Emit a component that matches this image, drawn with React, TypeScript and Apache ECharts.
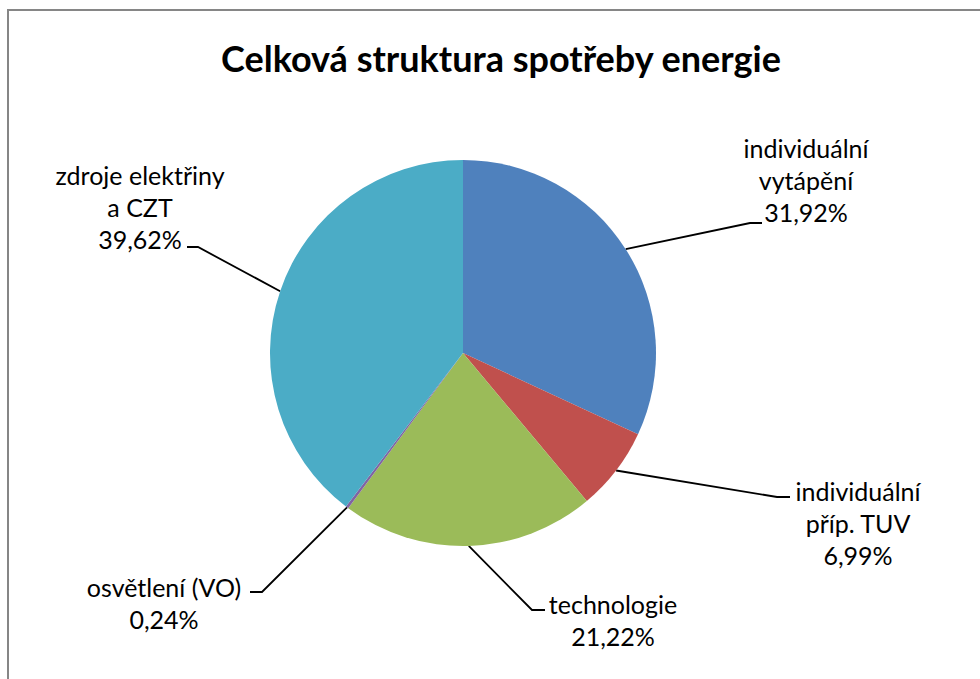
import React, { useEffect, useRef } from "react";
import * as echarts from "echarts";

const TITLE = "Celková struktura spotřeby energie";
const CATEGORIES = [
  "individuální\nvytápění",
  "individuální\npříp. TUV",
  "technologie",
  "osvětlení (VO)",
  "zdroje elektřiny\na CZT",
];
const VALUES = [31.92, 6.99, 21.22, 0.24, 39.62];
const COLORS = ["#4F81BD", "#C0504D", "#9BBB59", "#8064A2", "#4BACC6"];

// layout of labels: [centerX, topY, elbowX, elbowY, endX, endY]
const LABEL_LAYOUT: number[][] = [
  [806, 132, 750, 223, 762, 223],
  [858, 475, 777, 497, 790, 497],
  [613, 588, 532, 610, 545, 610],
  [164, 571, 262, 592, 250, 592],
  [140, 159, 198, 247, 187, 247],
];

const CENTER = [463, 353];
const RADIUS = 193;
const FONT = "Lato, 'Open Sans', sans-serif";

export default function App() {
  const ref = useRef<HTMLDivElement>(null);
  useEffect(() => {
    if (!ref.current) return;
    const chart = echarts.init(ref.current, null, { renderer: "svg" });
    const data = CATEGORIES.map((name, i) => ({ name, value: VALUES[i] }));
    chart.setOption({
      animation: false,
      backgroundColor: "#ffffff",
      color: COLORS,
      title: {
        text: TITLE,
        left: 496,
        top: 35,
        textAlign: "center",
        textStyle: {
          fontFamily: FONT,
          fontWeight: "bold",
          fontSize: 36,
          color: "#000000",
        },
      },
      graphic: [
        {
          type: "rect",
          shape: { x: 8, y: 10, width: 1000, height: 700 },
          style: { fill: "none", stroke: "#868686", lineWidth: 2 },
          silent: true,
        },
      ],
      series: [
        {
          type: "pie",
          center: CENTER,
          radius: RADIUS,
          startAngle: 90,
          clockwise: true,
          avoidLabelOverlap: false,
          data,
          itemStyle: { borderWidth: 0 },
          emphasis: { disabled: true },
          label: {
            show: true,
            position: "outside",
            fontFamily: FONT,
            fontSize: 25,
            lineHeight: 32,
            color: "#000000",
            align: "center",
            formatter: (p: any) =>
              p.name + "\n" + Number(p.value).toFixed(2).replace(".", ",") + "%",
          },
          labelLine: {
            show: true,
            length: 20,
            length2: 10,
            lineStyle: { color: "#000000", width: 1.8 },
          },
          labelLayout: (params: any) => {
            const L = LABEL_LAYOUT[params.dataIndex];
            let start = params.labelLinePoints && params.labelLinePoints[0];
            if (!start) {
              let acc = 0;
              const total = VALUES.reduce((a, b) => a + b, 0);
              for (let k = 0; k < params.dataIndex; k++) acc += VALUES[k];
              const mid = ((acc + VALUES[params.dataIndex] / 2) / total) * Math.PI * 2;
              start = [CENTER[0] + RADIUS * Math.sin(mid), CENTER[1] - RADIUS * Math.cos(mid)];
            }
            return {
              x: L[0],
              y: L[1],
              align: "center",
              verticalAlign: "top",
              labelLinePoints: [
                [start[0], start[1]],
                [L[2], L[3]],
                [L[4], L[5]],
              ],
            };
          },
        },
      ],
    });
    return () => chart.dispose();
  }, []);
  return (
    <div
      ref={ref}
      style={{ position: "fixed", left: 0, top: 0, width: 980, height: 679 }}
    />
  );
}
